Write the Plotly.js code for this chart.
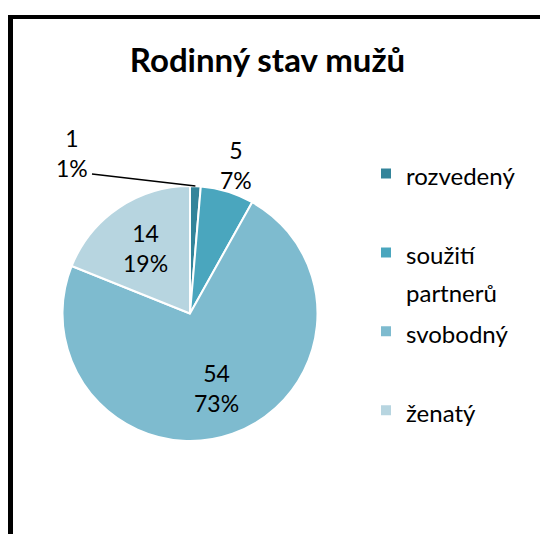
<!DOCTYPE html>
<html>
<head>
<meta charset="utf-8">
<script src="https://cdn.plot.ly/plotly-3.0.1.min.js"></script>
<style>
  html, body { margin: 0; padding: 0; background: #fff; }
  #frame { position: absolute; left: 8px; top: 15px; width: 540px; height: 540px;
           border-left: 5px solid #000; border-top: 4px solid #000; }
  #chart { position: absolute; left: 0; top: 0; width: 540px; height: 534px; }
</style>
</head>
<body>
<div id="frame"></div>
<div id="chart"></div>
<script>
// ---- data ----
const chartTitle = 'Rodinný stav mužů';
const categories = ['rozvedený', 'soužití partnerů', 'svobodný', 'ženatý'];
const values = [1, 5, 54, 14];

// ---- styles ----
const colors = ['#33849A', '#4AA6BE', '#7EBBCF', '#B7D5E0'];
const labelModes = ['leader', 'outside', 'inside', 'inside'];
const W = 540, H = 534;
const pieCx = 190, pieCy = 313.5, pieR = 127.5;
const labelFont = { family: 'Lato, sans-serif', size: 23, color: '#000' };

const legendLabels = categories.map(c => {
  const parts = c.split(' ');
  const lines = parts.map(p => '<span style="font-size:24px">' + p + '</span>');
  if (lines.length < 2) lines.push('\u00a0');
  return lines.join('<br>');
});

const total = values.reduce((a, b) => a + b, 0);

const trace = {
  type: 'pie',
  labels: legendLabels,
  values: values,
  sort: false,
  direction: 'clockwise',
  rotation: 0,
  marker: { colors: colors, line: { color: '#ffffff', width: 2 } },
  textinfo: 'none',
  hoverinfo: 'value+percent',
  domain: {
    x: [(pieCx - pieR) / W, (pieCx + pieR) / W],
    y: [(H - pieCy - pieR) / H, (H - pieCy + pieR) / H]
  }
};

// data labels placed at each slice's mid-angle
const annotations = [];
const shapes = [];
let cum = 0;
values.forEach((v, i) => {
  const ang = (cum + v / 2) / total * 2 * Math.PI;
  cum += v;
  const txt = v + '<br>' + Math.round(v / total * 100) + '%';
  const mode = labelModes[i];
  if (mode === 'leader') {
    const tipX = (pieCx + pieR * Math.sin(ang)) / W;
    const tipY = (H - (pieCy - pieR * Math.cos(ang))) / H;
    annotations.push({
      text: txt, x: 71.5 / W, y: (H - 152.5) / H, xref: 'paper', yref: 'paper',
      xanchor: 'center', yanchor: 'middle', showarrow: false, font: labelFont
    });
    shapes.push({
      type: 'line', xref: 'paper', yref: 'paper',
      x0: 92 / W, y0: (H - 174) / H, x1: tipX, y1: tipY,
      line: { color: '#000', width: 1.5 }
    });
  } else {
    const f = mode === 'inside' ? 0.62 : 1.22;
    const px = pieCx + f * pieR * Math.sin(ang);
    const py = pieCy - f * pieR * Math.cos(ang);
    annotations.push({
      text: txt, x: px / W, y: (H - py) / H, xref: 'paper', yref: 'paper',
      xanchor: 'center', yanchor: 'middle', showarrow: false, font: labelFont
    });
  }
});

const layout = {
  width: W, height: H,
  margin: { l: 0, r: 0, t: 0, b: 0 },
  paper_bgcolor: 'rgba(0,0,0,0)',
  plot_bgcolor: 'rgba(0,0,0,0)',
  font: { family: 'Lato, sans-serif', color: '#000' },
  title: {
    text: chartTitle,
    font: { family: 'Lato, sans-serif', size: 33, weight: 700, color: '#000' },
    x: 267.5 / W, xanchor: 'center', xref: 'container',
    y: (H - 60) / H, yanchor: 'middle', yref: 'container',
    automargin: false
  },
  showlegend: true,
  legend: {
    x: 366 / W, xanchor: 'left', xref: 'paper',
    y: (H - 148) / H, yanchor: 'top', yref: 'paper',
    font: { family: 'Lato, sans-serif', size: 29.2, color: '#000' },
    valign: 'top',
    bgcolor: 'rgba(0,0,0,0)',
    traceorder: 'normal'
  },
  annotations: annotations,
  shapes: shapes
};

Plotly.newPlot('chart', [trace], layout, { displayModeBar: false, staticPlot: true });
</script>
</body>
</html>
